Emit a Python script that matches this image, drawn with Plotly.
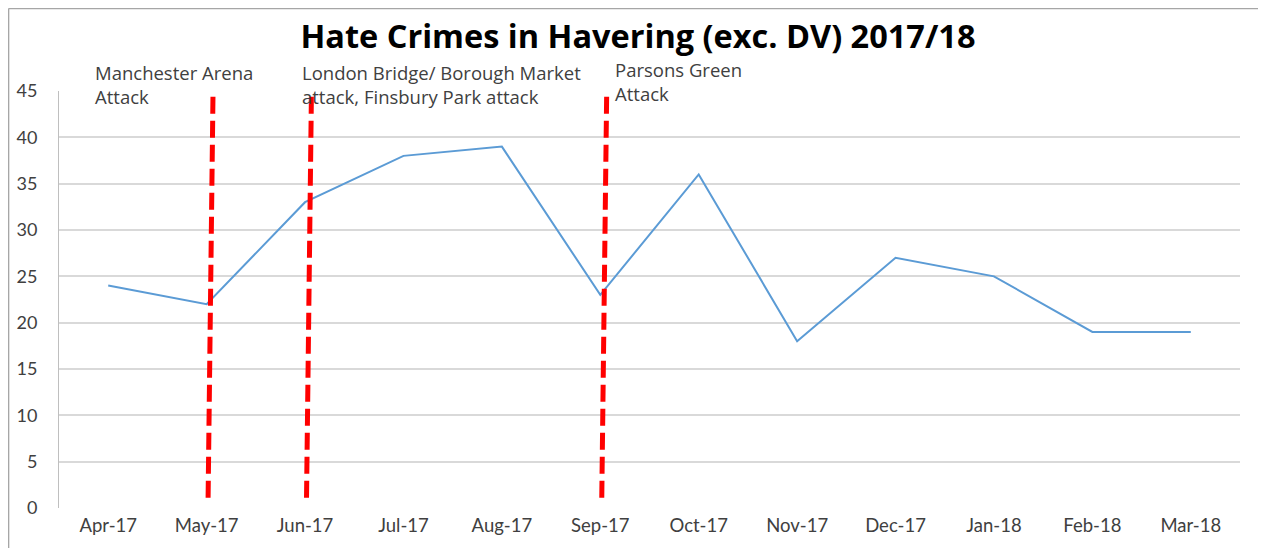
import plotly.graph_objects as go

months = ["Apr-17", "May-17", "Jun-17", "Jul-17", "Aug-17", "Sep-17",
          "Oct-17", "Nov-17", "Dec-17", "Jan-18", "Feb-18", "Mar-18"]
crimes = [24, 22, 33, 38, 39, 23, 36, 18, 27, 25, 19, 19]

event_months = ["May-17", "Jun-17", "Sep-17"]
event_labels = ["Manchester Arena<br>Attack",
                "London Bridge/ Borough Market<br>attack, Finsbury Park attack",
                "Parsons Green<br>Attack"]

y_ticks = list(range(0, 50, 5))

fig = go.Figure()
fig.add_trace(go.Scatter(x=list(range(len(months))), y=crimes, mode="lines",
                         line=dict(color="#5B9BD5", width=2), hoverinfo="skip"))

TICK_FONT = "Lato"
NOTE_FONT = "Open Sans"
shapes = []
annotations = []
label_x = {"May-17": -0.15, "Jun-17": 1.95, "Sep-17": 5.13}
label_y = {"May-17": 1.0156, "Jun-17": 1.0156, "Sep-17": 1.0235}
for m, lab in zip(event_months, event_labels):
    i = months.index(m)
    shapes.append(dict(type="line", xref="x", yref="y",
                       x0=i + 0.015, x1=i + 0.065, y0=1.1, y1=44.8,
                       line=dict(color="#FF0000", width=5, dash="17px,7px")))
    annotations.append(dict(x=label_x[m], y=label_y[m], xref="x", yref="paper",
                            text=lab, showarrow=False, xanchor="left", yanchor="middle",
                            align="left",
                            font=dict(family=NOTE_FONT, size=18.5, color="#404040")))

# outer frame
shapes.append(dict(type="line", xref="paper", yref="paper",
                   x0=-0.0427, x1=1.018, y0=1.198, y1=1.198,
                   line=dict(color="#A6A6A6", width=1.5)))
shapes.append(dict(type="line", xref="paper", yref="paper",
                   x0=-0.0427, x1=-0.0427, y0=-0.1, y1=1.198,
                   line=dict(color="#A6A6A6", width=1.5)))

fig.update_layout(
    width=1258, height=540,
    margin=dict(l=51, r=26, t=83, b=40),
    paper_bgcolor="white", plot_bgcolor="white",
    showlegend=False,
    title=dict(text="<b>Hate Crimes in Havering (exc. DV) 2017/18</b>",
               x=0.5008, xanchor="center", y=0.947, yanchor="middle",
               font=dict(family="Open Sans", size=32.5, color="#000000")),
    xaxis=dict(tickmode="array", tickvals=list(range(len(months))), ticktext=months,
               range=[-0.5, len(months) - 0.5], showgrid=False, zeroline=False,
               showline=False, ticks="", ticklabelstandoff=4, automargin=False,
               tickfont=dict(family=TICK_FONT, size=18.5, color="#404040")),
    yaxis=dict(range=[0, 45], tickvals=y_ticks, showgrid=True, gridcolor="#D9D9D9",
               gridwidth=1.5, zeroline=False, showline=True, linecolor="#BFBFBF",
               linewidth=1, ticks="", ticklabelstandoff=17, automargin=False,
               tickfont=dict(family=TICK_FONT, size=18, color="#404040")),
    shapes=shapes, annotations=annotations,
)

fig.write_html("out.html")
